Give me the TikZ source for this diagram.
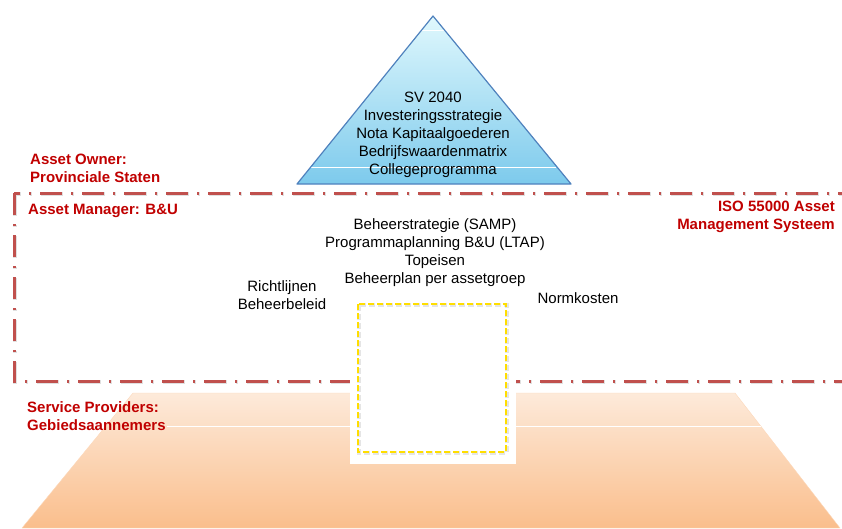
\documentclass[tikz,border=0pt]{standalone}
\usepackage{fontspec}
\setmainfont{Liberation Sans}
\usetikzlibrary{positioning}
\definecolor{rolered}{RGB}{192,0,0}
\definecolor{framered}{RGB}{192,80,77}
\definecolor{pyrline}{RGB}{79,129,189}
\definecolor{pyrtop}{RGB}{224,248,253}
\definecolor{pyrbot}{RGB}{125,202,236}
\definecolor{basetop}{RGB}{253,234,218}
\definecolor{basebot}{RGB}{250,190,140}
\definecolor{boxyellow}{RGB}{255,222,0}
\begin{document}
\begin{tikzpicture}[x=1pt,y=-1pt,
    roletext/.style={font=\fontsize{15}{18}\selectfont\bfseries, text=rolered, align=left, inner sep=0pt},
    itemtext/.style={font=\fontsize{15}{18}\selectfont, align=center, inner sep=0pt},
    dashdot/.style={line width=3pt, dash pattern=on 22pt off 9pt on 2pt off 9pt},
    yellowdash/.style={line width=2pt, dash pattern=on 6pt off 3pt}]
  \useasboundingbox (0,0) rectangle (842,528);
  \clip (0,0) rectangle (842,528);
  % Service Providers base
  \shade[top color=basetop, bottom color=basebot, draw=basebot!60!white]
    (133,393) -- (735,393) -- (840,528) -- (22,528) -- cycle;
  \draw[white, thin] (167,426) -- (761,426);
  % Asset Manager frame
  \draw[dashdot, black, opacity=0.12, line width=4.5pt, shift={(0.8,1.2)}] (14,193) rectangle (900,381);
  \draw[dashdot, framered] (14,193) rectangle (900,381);
  % box with its white backing
  \fill[white] (350,296) rectangle (516,464);
  \draw[yellowdash, black, opacity=0.1, line width=3.5pt, shift={(1,1)}] (358,304) rectangle (506,452);
  \draw[yellowdash, boxyellow] (358,304) rectangle (506,452);
  % Asset Owner pyramid
  \shade[top color=pyrtop, bottom color=pyrbot] (433,16) -- (571,184) -- (297,184) -- cycle;
  \foreach \yy/\hw in {30/11.4, 167/123}
    {
     \draw[white, thin] (433-\hw,\yy) -- (433+\hw,\yy);
    }
  \draw[pyrline, line width=1.2pt, line join=round] (433,16) -- (571,184) -- (297,184) -- cycle;
  \node[itemtext] (pyr) at (433,135)
    {SV 2040\\Investeringsstrategie\\Nota Kapitaalgoederen\\Bedrijfswaardenmatrix\\Collegeprogramma};
  % role labels
  \node[roletext, anchor=west] (owner) at (30,168) {Asset Owner:\\Provinciale Staten};
  \node[roletext, anchor=west] (manager) at (28,211) {Asset Manager: B\&U};
  \node[roletext, anchor=east, align=right] (iso) at (835,217) {ISO 55000 Asset\\Management Systeem};
  \node[roletext, anchor=west] (providers) at (27,416) {Service Providers:\\Gebiedsaannemers};
  % Asset Manager products
  \node[itemtext] (plans) at (435,253)
    {Beheerstrategie (SAMP)\\Programmaplanning B\&U (LTAP)\\Topeisen\\Beheerplan per assetgroep};
  \node[itemtext] (rules) at (282,295) {Richtlijnen\\Beheerbeleid};
  \node[itemtext] (norms) at (578,298) {Normkosten};
\end{tikzpicture}
\end{document}
